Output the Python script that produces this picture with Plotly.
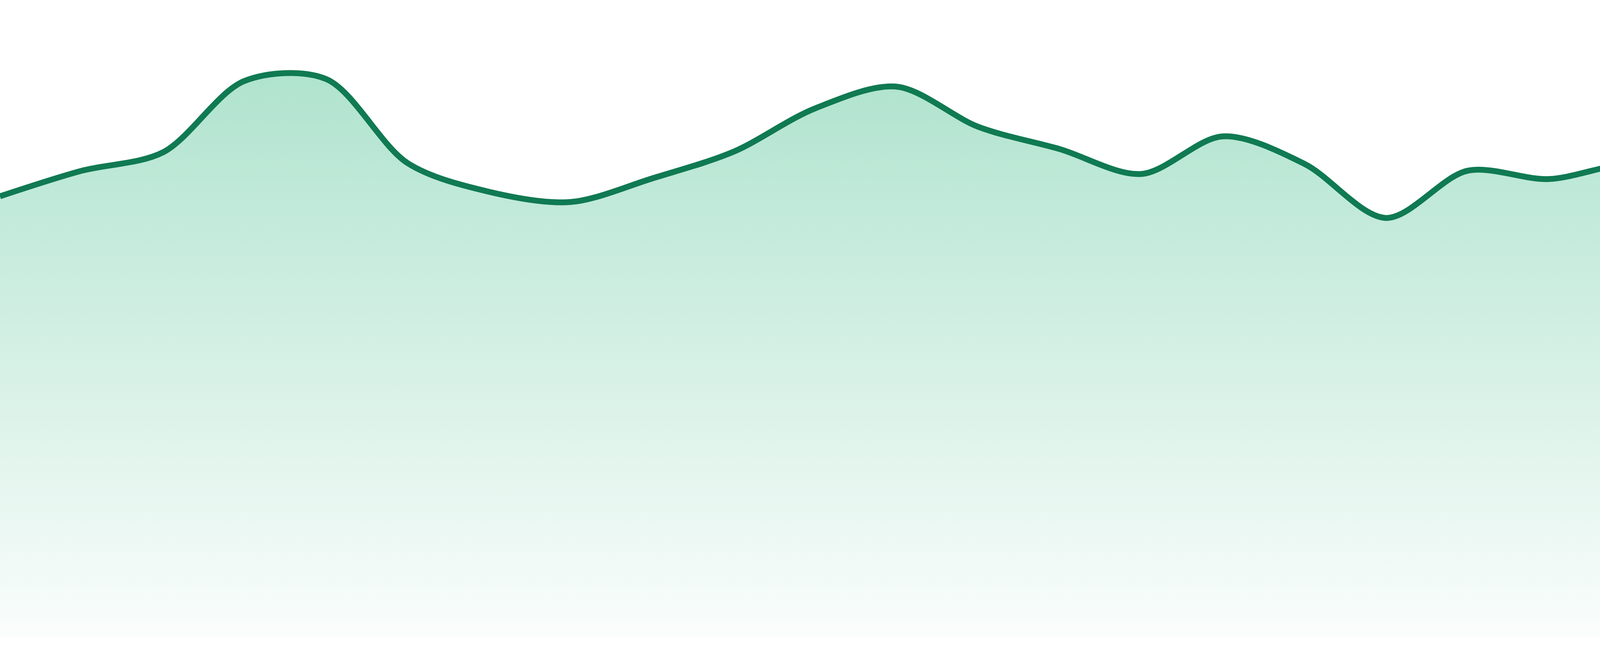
import plotly.graph_objects as go

# ---------------------------------------------------------
# DATA (24 evenly spaced points)
# ---------------------------------------------------------
points = list(range(24))
values = [
    69.2, 73.2, 76.1, 87.3, 87.6, 74.4, 69.9, 68.3,
    72.0, 76.2, 83.0, 86.4, 80.1, 76.6, 72.7, 78.6,
    74.3, 65.8, 73.2, 71.9, 74.3, 72.6, 75.4, 75.7,
]
y_range = [0, 100]

# ---------------------------------------------------------
# STYLE
# ---------------------------------------------------------
LINE_COLOR = "#107a52"
FILL_TOP = "#a6e0c8"
FILL_BOTTOM = "#fafdfc"

fig = go.Figure()

fig.add_trace(go.Scatter(
    x=points, y=values, mode="lines",
    line=dict(color=LINE_COLOR, width=15, shape="spline", smoothing=0.9),
    fill="tozeroy",
    fillgradient=dict(
        type="vertical",
        colorscale=[[0, FILL_BOTTOM], [1, FILL_TOP]],
        start=y_range[0],
        stop=y_range[1],
    ),
    hoverinfo="skip",
    showlegend=False,
))

fig.update_layout(
    width=4800,
    height=1680,
    margin=dict(l=0, r=0, t=0, b=48),
    paper_bgcolor="white",
    plot_bgcolor="white",
    xaxis=dict(visible=False, range=[points[0], points[-1]], fixedrange=True),
    yaxis=dict(visible=False, range=y_range, fixedrange=True),
)

# page body has a default 8px margin; drop it so the chart sits at the edges
fig.write_html(
    "out.html",
    config={"displayModeBar": False},
    post_script="document.body.style.margin='0';",
)
